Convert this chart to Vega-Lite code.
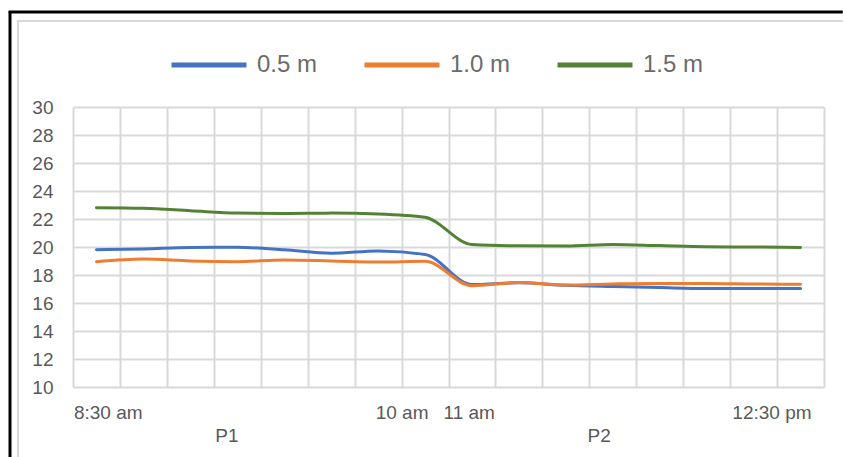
{
  "$schema": "https://vega.github.io/schema/vega-lite/v6.json",
  "width": 751,
  "height": 280,
  "autosize": {"type": "none"},
  "padding": {"left": 73, "top": 107, "right": 19, "bottom": 70},
  "background": "white",
  "config": {
    "view": {"stroke": null},
    "font": "Liberation Sans",
    "axis": {"labelFont": "Liberation Sans", "labelColor": "#595959"},
    "axisY": {"labelOverlap": false},
    "legend": {"labelFont": "Liberation Sans"}
  },
  "datasets": {
    "frame": [{"part": "chart area"}],
    "temps": [
      {"step": 0.5, "series": "0.5 m", "temp": 19.81},
      {"step": 1.5, "series": "0.5 m", "temp": 19.86},
      {"step": 2.5, "series": "0.5 m", "temp": 19.97},
      {"step": 3.5, "series": "0.5 m", "temp": 19.98},
      {"step": 4.5, "series": "0.5 m", "temp": 19.8},
      {"step": 5.5, "series": "0.5 m", "temp": 19.55},
      {"step": 6.5, "series": "0.5 m", "temp": 19.72},
      {"step": 7.5, "series": "0.5 m", "temp": 19.47},
      {"step": 8.5, "series": "0.5 m", "temp": 17.32},
      {"step": 9.5, "series": "0.5 m", "temp": 17.44},
      {"step": 10.5, "series": "0.5 m", "temp": 17.26},
      {"step": 11.5, "series": "0.5 m", "temp": 17.17},
      {"step": 12.5, "series": "0.5 m", "temp": 17.1},
      {"step": 13.5, "series": "0.5 m", "temp": 17.04},
      {"step": 14.5, "series": "0.5 m", "temp": 17.03},
      {"step": 15.5, "series": "0.5 m", "temp": 17.03},
      {"step": 0.5, "series": "1.0 m", "temp": 18.95},
      {"step": 1.5, "series": "1.0 m", "temp": 19.14},
      {"step": 2.5, "series": "1.0 m", "temp": 19.0},
      {"step": 3.5, "series": "1.0 m", "temp": 18.95},
      {"step": 4.5, "series": "1.0 m", "temp": 19.07},
      {"step": 5.5, "series": "1.0 m", "temp": 19.0},
      {"step": 6.5, "series": "1.0 m", "temp": 18.92},
      {"step": 7.5, "series": "1.0 m", "temp": 18.98},
      {"step": 8.5, "series": "1.0 m", "temp": 17.24},
      {"step": 9.5, "series": "1.0 m", "temp": 17.46},
      {"step": 10.5, "series": "1.0 m", "temp": 17.29},
      {"step": 11.5, "series": "1.0 m", "temp": 17.36},
      {"step": 12.5, "series": "1.0 m", "temp": 17.4},
      {"step": 13.5, "series": "1.0 m", "temp": 17.4},
      {"step": 14.5, "series": "1.0 m", "temp": 17.36},
      {"step": 15.5, "series": "1.0 m", "temp": 17.34},
      {"step": 0.5, "series": "1.5 m", "temp": 22.8},
      {"step": 1.5, "series": "1.5 m", "temp": 22.76},
      {"step": 2.5, "series": "1.5 m", "temp": 22.59},
      {"step": 3.5, "series": "1.5 m", "temp": 22.42},
      {"step": 4.5, "series": "1.5 m", "temp": 22.4},
      {"step": 5.5, "series": "1.5 m", "temp": 22.42},
      {"step": 6.5, "series": "1.5 m", "temp": 22.36},
      {"step": 7.5, "series": "1.5 m", "temp": 22.12},
      {"step": 8.5, "series": "1.5 m", "temp": 20.18},
      {"step": 9.5, "series": "1.5 m", "temp": 20.09},
      {"step": 10.5, "series": "1.5 m", "temp": 20.08},
      {"step": 11.5, "series": "1.5 m", "temp": 20.18},
      {"step": 12.5, "series": "1.5 m", "temp": 20.1},
      {"step": 13.5, "series": "1.5 m", "temp": 20.02},
      {"step": 14.5, "series": "1.5 m", "temp": 20.0},
      {"step": 15.5, "series": "1.5 m", "temp": 19.96}
    ]
  },
  "layer": [
    {
      "description": "outer black frame, top edge",
      "data": {"name": "frame"},
      "mark": {"type": "rule", "stroke": "black", "strokeWidth": 3, "clip": false},
      "encoding": {
        "x": {"datum": -1.37, "type": "quantitative", "axis": null},
        "x2": {"datum": 16.4},
        "y": {
          "datum": 36.79,
          "type": "quantitative",
          "axis": {
            "values": [10, 12, 14, 16, 18, 20, 22, 24, 26, 28, 30],
            "grid": true, "gridColor": "#d9d9d9", "gridWidth": 2,
            "ticks": false, "domain": false,
            "labelFontSize": 19, "labelPadding": 20,
            "labelOverlap": false, "labelBound": false, "labelFlush": false,
            "title": null
          }
        },
        "y2": {"datum": 36.79}
      }
    },
    {
      "description": "outer black frame, left edge",
      "data": {"name": "frame"},
      "mark": {"type": "rule", "stroke": "black", "strokeWidth": 3, "clip": false},
      "encoding": {
        "x": {"datum": -1.342, "type": "quantitative", "axis": null},
        "x2": {"datum": -1.342},
        "y": {
          "datum": 36.85,
          "type": "quantitative",
          "axis": {
            "values": [10, 12, 14, 16, 18, 20, 22, 24, 26, 28, 30],
            "grid": true, "gridColor": "#d9d9d9", "gridWidth": 2,
            "ticks": false, "domain": false,
            "labelFontSize": 19, "labelPadding": 20,
            "labelOverlap": false, "labelBound": false, "labelFlush": false,
            "title": null
          }
        },
        "y2": {"datum": 5}
      }
    },
    {
      "description": "chart area border, top edge",
      "data": {"name": "frame"},
      "mark": {"type": "rule", "stroke": "#d9d9d9", "strokeWidth": 2, "clip": false},
      "encoding": {
        "x": {"datum": -1.19, "type": "quantitative", "axis": null},
        "x2": {"datum": 16.4},
        "y": {
          "datum": 36.14,
          "type": "quantitative",
          "axis": {
            "values": [10, 12, 14, 16, 18, 20, 22, 24, 26, 28, 30],
            "grid": true, "gridColor": "#d9d9d9", "gridWidth": 2,
            "ticks": false, "domain": false,
            "labelFontSize": 19, "labelPadding": 20,
            "labelOverlap": false, "labelBound": false, "labelFlush": false,
            "title": null
          }
        },
        "y2": {"datum": 36.14}
      }
    },
    {
      "description": "chart area border, left edge; also carries the vertical gridlines",
      "data": {"name": "frame"},
      "mark": {"type": "rule", "stroke": "#d9d9d9", "strokeWidth": 2, "clip": false},
      "encoding": {
        "x": {
          "datum": -1.172,
          "type": "quantitative",
          "axis": {
            "orient": "bottom",
            "values": [0, 1, 2, 3, 4, 5, 6, 7, 8, 9, 10, 11, 12, 13, 14, 15, 16],
            "grid": true,
            "gridColor": "#d9d9d9",
            "gridWidth": 2,
            "labels": false,
            "ticks": false,
            "domain": false,
            "title": null
          }
        },
        "x2": {"datum": -1.172},
        "y": {
          "datum": 36.14,
          "type": "quantitative",
          "axis": {
            "values": [10, 12, 14, 16, 18, 20, 22, 24, 26, 28, 30],
            "grid": true, "gridColor": "#d9d9d9", "gridWidth": 2,
            "ticks": false, "domain": false,
            "labelFontSize": 19, "labelPadding": 20,
            "labelOverlap": false, "labelBound": false, "labelFlush": false,
            "title": null
          }
        },
        "y2": {"datum": 5}
      }
    },
    {
      "data": {"name": "temps"},
      "mark": {"type": "line", "interpolate": "monotone", "strokeWidth": 3, "strokeCap": "round"},
      "encoding": {
        "x": {
          "field": "step",
          "type": "quantitative",
          "scale": {"domain": [0, 16], "nice": false, "zero": false},
          "axis": {
            "orient": "bottom",
            "values": [0.74, 3.27, 7.0, 8.43, 11.2, 14.88],
            "labelExpr": "datum.value < 1 ? '8:30 am' : datum.value < 4 ? ['', 'P1'] : datum.value < 7.5 ? '10 am' : datum.value < 9 ? '11 am' : datum.value < 12 ? ['', 'P2'] : '12:30 pm'",
            "grid": false,
            "ticks": false,
            "domain": false,
            "labelFontSize": 19,
            "labelPadding": 16,
            "labelBaseline": "top",
            "labelLineHeight": 23,
            "labelOverlap": false,
            "labelBound": false,
            "labelFlush": false,
            "title": null
          }
        },
        "y": {
          "field": "temp",
          "type": "quantitative",
          "scale": {"domain": [10, 30], "nice": false, "zero": false},
          "axis": {
            "values": [10, 12, 14, 16, 18, 20, 22, 24, 26, 28, 30],
            "grid": true, "gridColor": "#d9d9d9", "gridWidth": 2,
            "ticks": false, "domain": false,
            "labelFontSize": 19, "labelPadding": 20,
            "labelOverlap": false, "labelBound": false, "labelFlush": false,
            "title": null
          }
        },
        "color": {
          "field": "series",
          "type": "nominal",
          "scale": {"domain": ["0.5 m", "1.0 m", "1.5 m"], "range": ["#4472c4", "#ed7d31", "#548235"]},
          "legend": {
            "title": null,
            "orient": "none",
            "direction": "horizontal",
            "legendX": 96,
            "legendY": -82,
            "symbolType": "stroke",
            "symbolSize": 5625,
            "symbolStrokeWidth": 5,
            "labelFontSize": 24,
            "labelColor": "#6b6b6b",
            "labelOffset": 8,
            "columnPadding": 36,
            "encode": {
              "symbols": {
                "update": {
                  "stroke": {"signal": "datum.value === '0.5 m' ? '#1f77ee' : datum.value === '1.0 m' ? '#e3852f' : '#27a061'"}
                }
              }
            }
          }
        }
      }
    }
  ],
  "resolve": {"axis": {"x": "independent"}}
}
